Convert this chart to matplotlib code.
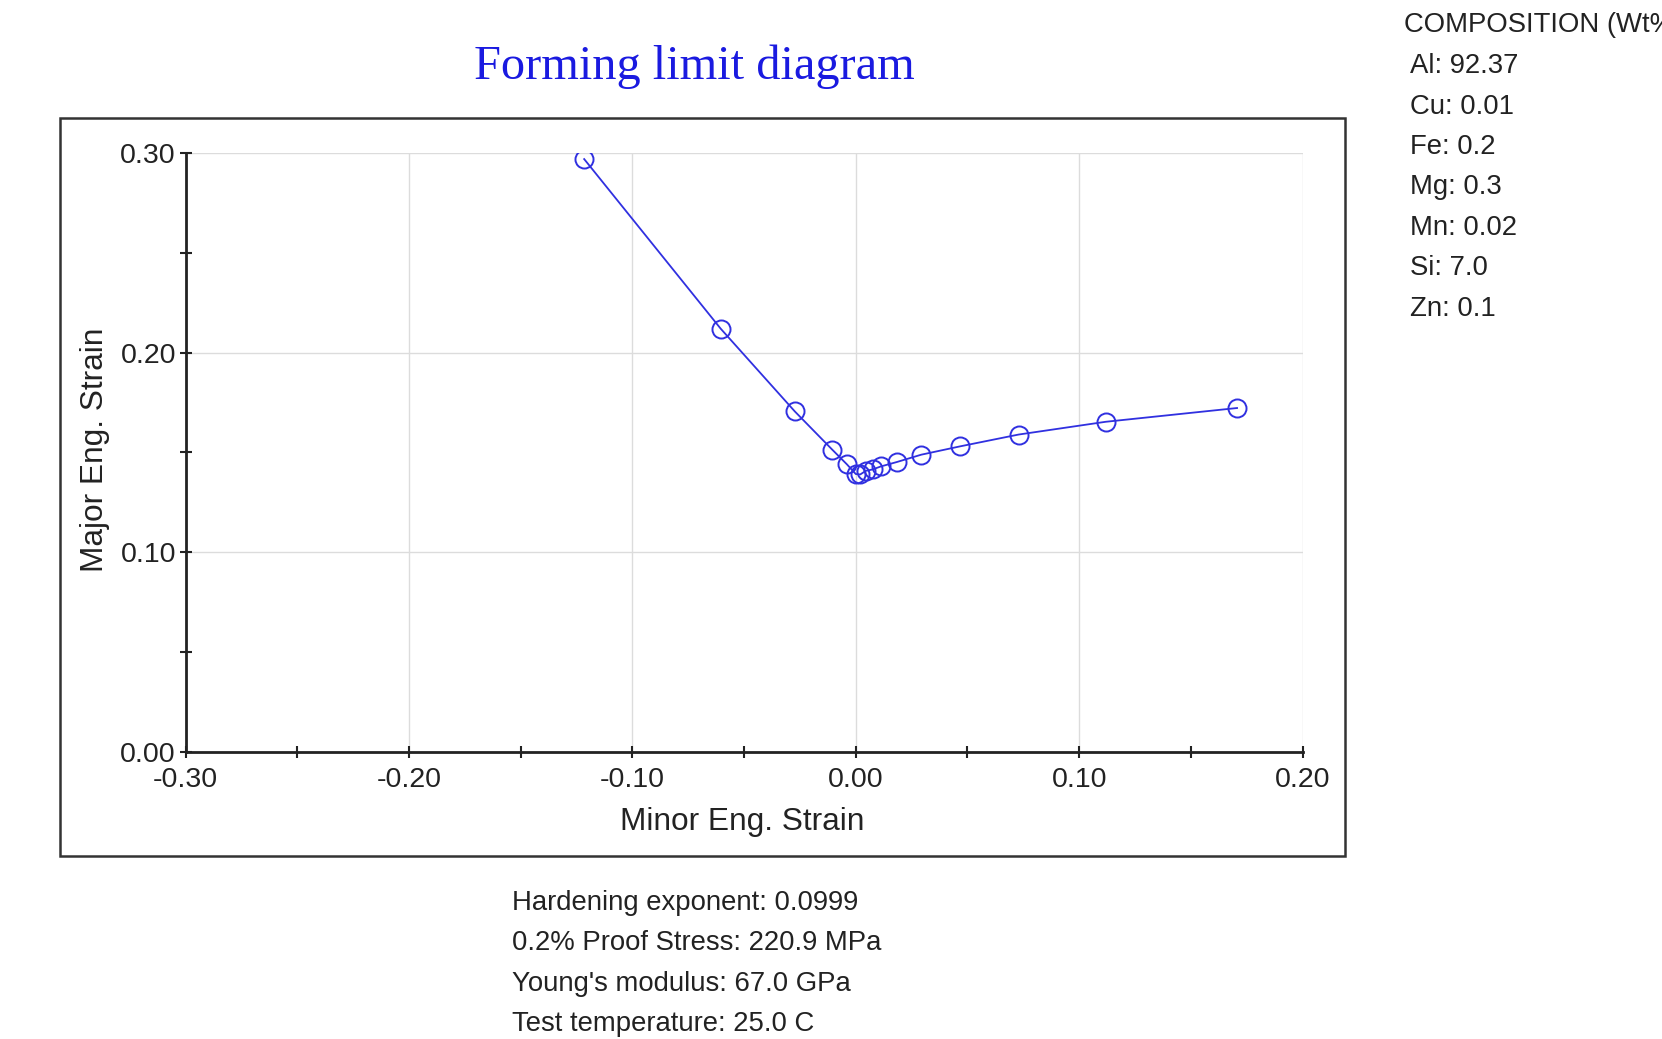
import matplotlib
matplotlib.use("Agg")
import matplotlib.pyplot as plt
from matplotlib.patches import Rectangle
from matplotlib.ticker import MultipleLocator, FormatStrFormatter

# ---- data ----
minor_strain = [-0.1216, -0.0605, -0.0273, -0.0106, -0.0040, 0.0000, 0.0020,
                0.0045, 0.0075, 0.0112, 0.0183, 0.0293, 0.0468, 0.0729,
                0.1119, 0.1707]
major_strain = [0.2971, 0.2121, 0.1706, 0.1515, 0.1441, 0.1392, 0.1390,
                0.1408, 0.1415, 0.1430, 0.1452, 0.1489, 0.1531, 0.1590,
                0.1654, 0.1723]
x_ticks = [-0.30, -0.20, -0.10, 0.00, 0.10, 0.20]
y_ticks = [0.00, 0.10, 0.20, 0.30]

title = "Forming limit diagram"
composition_header = "COMPOSITION (Wt%)"
composition = ["Al: 92.37", "Cu: 0.01", "Fe: 0.2", "Mg: 0.3", "Mn: 0.02",
               "Si: 7.0", "Zn: 0.1"]
properties = ["Hardening exponent: 0.0999", "0.2% Proof Stress: 220.9 MPa",
              "Young's modulus: 67.0 GPa", "Test temperature: 25.0 C"]

W, H = 1662, 1039
plt.rcParams['font.family'] = ['Liberation Sans', 'DejaVu Sans']
fig = plt.figure(figsize=(W / 100, H / 100), dpi=100)
fig.patch.set_facecolor('white')

def fx(px):
    return px / W

def fy(py):
    return 1 - py / H

# outer frame
fig.patches.append(Rectangle((fx(60), fy(856)), fx(1345) - fx(60), fy(118) - fy(856),
                             transform=fig.transFigure, fill=False,
                             edgecolor='#333333', linewidth=1.8))

left, right, top, bottom = 185.7, 1302.5, 153.3, 751.7
ax = fig.add_axes([fx(left), fy(bottom), fx(right) - fx(left), fy(top) - fy(bottom)])

line_col = '#3030e0'
ax.plot(minor_strain, major_strain, color=line_col, linewidth=1.3,
        marker='o', markersize=13, markerfacecolor='none',
        markeredgecolor=line_col, markeredgewidth=1.4, zorder=3)

ax.set_xlim(-0.30, 0.20)
ax.set_ylim(0.0, 0.30)
ax.set_xticks(x_ticks)
ax.set_yticks(y_ticks)
ax.xaxis.set_major_formatter(FormatStrFormatter('%.2f'))
ax.yaxis.set_major_formatter(FormatStrFormatter('%.2f'))
ax.xaxis.set_minor_locator(MultipleLocator(0.05))
ax.yaxis.set_minor_locator(MultipleLocator(0.05))
ax.tick_params(which='major', direction='inout', length=8, width=1.5,
               color='#222222', labelsize=20.5, labelcolor='#222222')
ax.tick_params(which='minor', direction='inout', length=8, width=1.5,
               color='#222222')
ax.tick_params(axis='x', pad=7)
ax.tick_params(axis='y', pad=3)
ax.grid(True, which='major', color='#dcdcdc', linewidth=1.0)
ax.set_axisbelow(True)
for s in ['top', 'right']:
    ax.spines[s].set_visible(False)
for s in ['left', 'bottom']:
    ax.spines[s].set_color('#222222')
    ax.spines[s].set_linewidth(2.0)

fig.text(fx(742), fy(822), "Minor Eng. Strain", ha='center', va='center',
         fontsize=22.8, color='#222222')
fig.text(fx(95), fy(450), "Major Eng. Strain", ha='center', va='center',
         rotation=90, fontsize=22.8, color='#222222')

fig.text(fx(694), fy(67), title, ha='center', va='center', fontsize=34.8,
         color='#1a1ae0', family=['Liberation Serif', 'DejaVu Serif'])

fig.text(fx(1404), fy(25), composition_header, ha='left', va='center',
         fontsize=19.8, color='#222222')
comp_y = [66, 107, 147, 187, 228, 268, 309]
for t, yy in zip(composition, comp_y):
    fig.text(fx(1410), fy(yy), t, ha='left', va='center', fontsize=19.8,
             color='#222222')

prop_y = [903, 943, 984, 1024]
for t, yy in zip(properties, prop_y):
    fig.text(fx(512), fy(yy), t, ha='left', va='center', fontsize=19.8,
             color='#222222')

fig.savefig("out.png", dpi=100, facecolor='white')
